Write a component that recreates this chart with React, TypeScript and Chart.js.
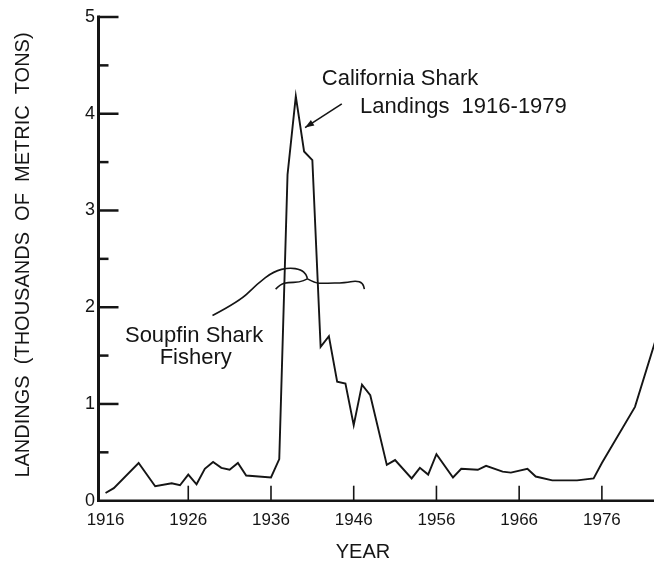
import React, { useEffect, useRef } from "react";
import { Chart, registerables } from "chart.js";

Chart.register(...registerables);

const years = [1916, 1917, 1920, 1922, 1924, 1925, 1926, 1927, 1928, 1929, 1930, 1931, 1932, 1933, 1936, 1937, 1938, 1939, 1940, 1941, 1942, 1943, 1944, 1945, 1946, 1947, 1948, 1950, 1951, 1953, 1954, 1955, 1956, 1958, 1959, 1961, 1962, 1964, 1965, 1967, 1968, 1970, 1973, 1975, 1976, 1980, 1983];
const landings = [0.08, 0.13, 0.39, 0.15, 0.18, 0.16, 0.27, 0.17, 0.33, 0.4, 0.34, 0.32, 0.39, 0.26, 0.24, 0.43, 3.37, 4.18, 3.61, 3.52, 1.59, 1.7, 1.23, 1.21, 0.78, 1.2, 1.09, 0.37, 0.42, 0.23, 0.34, 0.27, 0.48, 0.24, 0.33, 0.32, 0.36, 0.3, 0.29, 0.33, 0.25, 0.21, 0.21, 0.23, 0.39, 0.97, 1.8];
const xTickYears = [1916, 1926, 1936, 1946, 1956, 1966, 1976];
const yTickValues = [0, 0.5, 1, 1.5, 2, 2.5, 3, 3.5, 4, 4.5, 5];

const FONT = '"Liberation Sans", Arial, Helvetica, sans-serif';
const INK = "#151515";

// annotation paths in data units (year, thousand metric tons)
const braceTail = [[1928.93, 1.915], [1932.23, 2.063], [1934.3, 2.24], [1936.35, 2.373], [1938.21, 2.41], [1939.65, 2.388], [1940.27, 2.338], [1940.4, 2.293]];
const braceLeft = [[1936.56, 2.187], [1937.17, 2.24], [1938.01, 2.257], [1939.45, 2.257], [1940.4, 2.293]];
const braceRight = [[1940.4, 2.293], [1941.31, 2.25], [1942.34, 2.247], [1945.02, 2.253], [1946.25, 2.275], [1947.09, 2.25], [1947.29, 2.187]];

const annotPlugin = {
  id: "annot",
  beforeDraw(chart: any) {
    const ctx = chart.ctx;
    ctx.save();
    ctx.fillStyle = "#ffffff";
    ctx.fillRect(0, 0, chart.width, chart.height);
    ctx.restore();
  },
  afterDraw(chart: any) {
    const ctx = chart.ctx;
    const xs = chart.scales.x;
    const ys = chart.scales.y;
    const P = (p: number[]) => [xs.getPixelForValue(p[0]), ys.getPixelForValue(p[1])];
    const area = chart.chartArea;
    ctx.save();
    ctx.strokeStyle = INK;
    ctx.fillStyle = INK;
    ctx.lineCap = "butt";

    // axes
    const x0 = area.left - 1.5;
    const y0 = ys.getPixelForValue(0);
    ctx.lineWidth = 3;
    ctx.beginPath();
    ctx.moveTo(x0, ys.getPixelForValue(5) - 1.5);
    ctx.lineTo(x0, y0 + 1.2);
    ctx.stroke();
    ctx.lineWidth = 2.5;
    ctx.beginPath();
    ctx.moveTo(x0 - 1.5, y0);
    ctx.lineTo(area.right, y0);
    ctx.stroke();

    // y ticks (inward)
    ctx.lineWidth = 2.5;
    yTickValues.forEach((v) => {
      if (v === 0) return;
      const py = ys.getPixelForValue(v);
      const len = Number.isInteger(v) ? 20 : 10;
      ctx.beginPath();
      ctx.moveTo(x0, py);
      ctx.lineTo(x0 + len, py);
      ctx.stroke();
    });
    // x ticks (inward)
    ctx.lineWidth = 1.6;
    xTickYears.forEach((yr) => {
      if (yr === xTickYears[0]) return;
      const px = xs.getPixelForValue(yr);
      ctx.beginPath();
      ctx.moveTo(px, y0);
      ctx.lineTo(px, y0 - 15);
      ctx.stroke();
    });

    // axis titles
    ctx.font = `20px ${FONT}`;
    ctx.textAlign = "center";
    ctx.textBaseline = "middle";
    ctx.fillText("YEAR", 363, 552);
    ctx.save();
    ctx.translate(23, 255);
    ctx.rotate(-Math.PI / 2);
    ctx.fillText("LANDINGS  (THOUSANDS  OF  METRIC  TONS)", 0, 0);
    ctx.restore();

    // annotation text
    ctx.font = `22px ${FONT}`;
    ctx.textBaseline = "alphabetic";
    ctx.textAlign = "left";
    let p = P([1942.14, 4.299]);
    ctx.fillText("California Shark", p[0], p[1]);
    p = P([1946.77, 4.006]);
    ctx.fillText("Landings  1916-1979", p[0], p[1]);
    ctx.textAlign = "center";
    p = P([1926.7, 1.644]);
    ctx.fillText("Soupfin Shark", p[0], p[1]);
    p = P([1926.9, 1.411]);
    ctx.fillText("Fishery", p[0], p[1]);

    // arrow
    const a0 = P([1944.56, 4.102]);
    const a1 = P([1940.12, 3.857]);
    ctx.lineWidth = 1.6;
    ctx.beginPath();
    ctx.moveTo(a0[0], a0[1]);
    ctx.lineTo(a1[0], a1[1]);
    ctx.stroke();
    const ang = Math.atan2(a1[1] - a0[1], a1[0] - a0[0]);
    const hl = 9, hw = 3.2;
    ctx.beginPath();
    ctx.moveTo(a1[0], a1[1]);
    ctx.lineTo(a1[0] - hl * Math.cos(ang) + hw * Math.sin(ang), a1[1] - hl * Math.sin(ang) - hw * Math.cos(ang));
    ctx.lineTo(a1[0] - hl * Math.cos(ang) - hw * Math.sin(ang), a1[1] - hl * Math.sin(ang) + hw * Math.cos(ang));
    ctx.closePath();
    ctx.fill();

    // brace
    const smooth = (pts: number[][]) => {
      const q = pts.map(P);
      ctx.beginPath();
      ctx.moveTo(q[0][0], q[0][1]);
      for (let i = 1; i < q.length - 1; i++) {
        const mx = (q[i][0] + q[i + 1][0]) / 2;
        const my = (q[i][1] + q[i + 1][1]) / 2;
        ctx.quadraticCurveTo(q[i][0], q[i][1], mx, my);
      }
      ctx.lineTo(q[q.length - 1][0], q[q.length - 1][1]);
      ctx.stroke();
    };
    ctx.lineWidth = 1.6;
    ctx.lineJoin = "round";
    smooth(braceTail);
    smooth(braceLeft);
    smooth(braceRight);
    ctx.restore();
  },
};

export default function App() {
  const ref = useRef<HTMLCanvasElement | null>(null);
  useEffect(() => {
    if (!ref.current) return;
    Chart.defaults.font.family = FONT;
    const chart = new Chart(ref.current, {
      type: "line",
      data: {
        datasets: [
          {
            data: years.map((y, i) => ({ x: y, y: landings[i] })),
            borderColor: INK,
            borderWidth: 1.9,
            pointRadius: 0,
            tension: 0,
            fill: false,
          },
        ],
      },
      options: {
        animation: false,
        responsive: false,
        devicePixelRatio: 1,
        layout: { padding: { top: 17, right: 0, left: 0, bottom: 0 } },
        plugins: { legend: { display: false }, tooltip: { enabled: false }, title: { display: false } },
        scales: {
          x: {
            type: "linear",
            min: 1915.33,
            max: 1982.3,
            afterBuildTicks: (scale: any) => {
              scale.ticks = xTickYears.map((v) => ({ value: v }));
            },
            afterFit: (scale: any) => {
              scale.height = 60.3;
            },
            grid: { display: false, drawTicks: false },
            border: { display: false },
            ticks: {
              color: INK,
              font: { size: 17, family: FONT },
              padding: 9,
              maxRotation: 0,
              autoSkip: false,
              callback: (v: any) => String(v),
            },
          },
          y: {
            type: "linear",
            min: 0,
            max: 5,
            afterBuildTicks: (scale: any) => {
              scale.ticks = yTickValues.map((v) => ({ value: v }));
            },
            afterFit: (scale: any) => {
              scale.width = 100;
            },
            grid: { display: false, drawTicks: false },
            border: { display: false },
            ticks: {
              color: INK,
              font: { size: 18, family: FONT },
              padding: 5,
              autoSkip: false,
              callback: (v: any) => (Number.isInteger(v) ? String(v) : ""),
            },
          },
        },
      },
      plugins: [annotPlugin],
    } as any);
    return () => chart.destroy();
  }, []);
  return (
    <div style={{ position: "absolute", left: 0, top: 0, width: 654, height: 561, background: "#fff" }}>
      <canvas ref={ref} width={654} height={561} style={{ display: "block" }} />
    </div>
  );
}
